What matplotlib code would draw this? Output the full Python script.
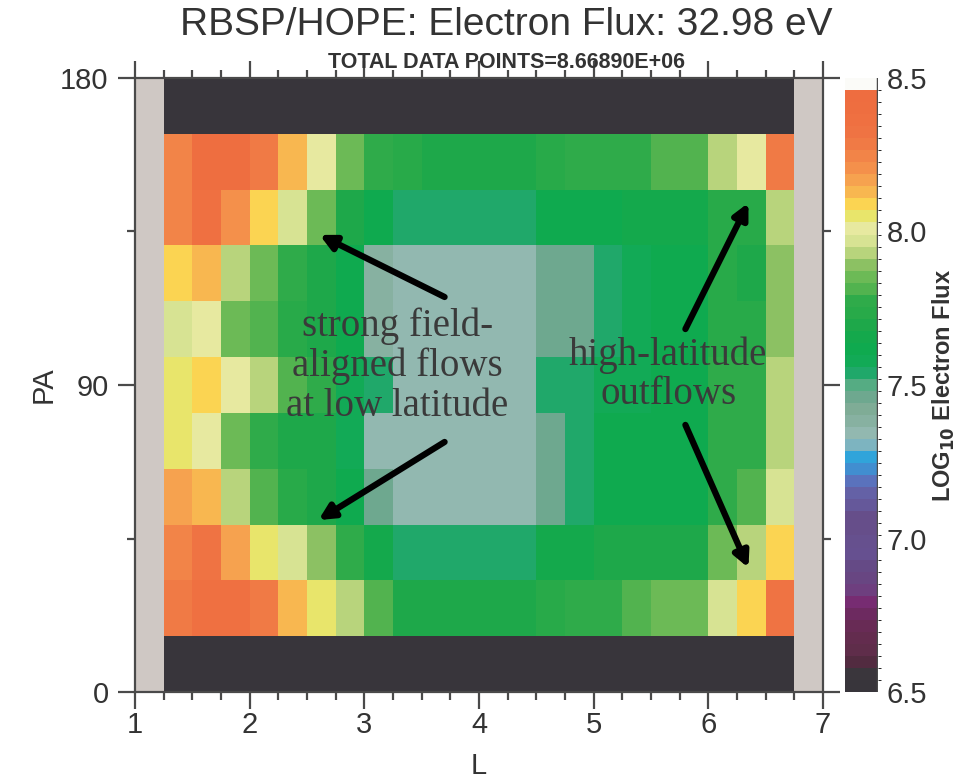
import numpy as np
import matplotlib
matplotlib.use("Agg")
import matplotlib.pyplot as plt
from matplotlib.colors import ListedColormap, BoundaryNorm

plt.rcParams["font.family"] = ["Liberation Sans", "DejaVu Sans"]

# ---------------------------------------------------------------------------
# Binned log10 electron flux, 32.98 eV, HOPE on RBSP
# L bins 1.25..6.75 (dL = 0.25), PA bins 180/11 deg wide
# ---------------------------------------------------------------------------
L_edges = [1.0, 1.25, 1.5, 1.75, 2.0, 2.25, 2.5, 2.75, 3.0, 3.25, 3.5, 3.75,
           4.0, 4.25, 4.5, 4.75, 5.0, 5.25, 5.5, 5.75, 6.0, 6.25, 6.5, 6.75, 7.0]
n_pa_bins = 11

# below the colour scale (no flux above 10^6.5)
low_fill = 6.5

pa_bin_1 = [8.28, 8.36, 8.36, 8.28, 8.13, 8.05, 7.93, 7.81, 7.70, 7.70, 7.70,
            7.70, 7.70, 7.74, 7.77, 7.77, 7.81, 7.85, 7.85, 7.97, 8.09, 8.32]
pa_bin_2 = [8.25, 8.32, 8.17, 8.05, 7.97, 7.89, 7.77, 7.66, 7.54, 7.54, 7.54,
            7.54, 7.54, 7.66, 7.66, 7.70, 7.70, 7.70, 7.70, 7.85, 7.93, 8.09]
pa_bin_3 = [8.17, 8.13, 7.93, 7.81, 7.74, 7.70, 7.62, 7.46, 7.34, 7.34, 7.34,
            7.34, 7.34, 7.46, 7.54, 7.62, 7.62, 7.62, 7.62, 7.77, 7.81, 7.97]
pa_bin_4 = [8.05, 8.01, 7.85, 7.77, 7.70, 7.70, 7.58, 7.34, 7.34, 7.34, 7.34,
            7.34, 7.34, 7.46, 7.54, 7.62, 7.62, 7.62, 7.62, 7.77, 7.77, 7.93]
pa_bin_5 = [8.05, 8.09, 8.01, 7.93, 7.81, 7.77, 7.58, 7.54, 7.34, 7.34, 7.34,
            7.34, 7.34, 7.54, 7.54, 7.58, 7.58, 7.62, 7.62, 7.77, 7.77, 7.93]
pa_bin_6 = [7.97, 8.01, 7.85, 7.81, 7.74, 7.70, 7.62, 7.38, 7.34, 7.34, 7.34,
            7.34, 7.34, 7.46, 7.46, 7.54, 7.58, 7.62, 7.62, 7.74, 7.74, 7.89]
pa_bin_7 = [8.09, 8.13, 7.93, 7.85, 7.77, 7.70, 7.62, 7.38, 7.34, 7.34, 7.34,
            7.34, 7.34, 7.46, 7.46, 7.54, 7.58, 7.62, 7.62, 7.74, 7.70, 7.89]
pa_bin_8 = [8.25, 8.36, 8.21, 8.09, 7.97, 7.85, 7.70, 7.62, 7.54, 7.54, 7.54,
            7.54, 7.54, 7.62, 7.62, 7.62, 7.66, 7.66, 7.66, 7.74, 7.74, 7.93]
pa_bin_9 = [8.25, 8.40, 8.40, 8.28, 8.13, 8.01, 7.85, 7.77, 7.74, 7.70, 7.70,
            7.70, 7.70, 7.74, 7.77, 7.77, 7.77, 7.81, 7.81, 7.93, 8.01, 8.28]

# IDL-style discrete colour table, bottom (6.5) to top (8.5)
ct_colors = [
    "#38353b", "#3a363c", "#522b40", "#5f2d4a", "#632c4e", "#682b55",
    "#6d2a60", "#772c72", "#6e3f7f", "#684682", "#654a86", "#665090",
    "#66508e", "#664e8a", "#664e8a", "#65589a", "#6461a6", "#5a72bd",
    "#418ed0", "#30a4da", "#7db4c0", "#92b8b0", "#87b1a1", "#7fac96",
    "#6ea88f", "#55ac83", "#20a86a", "#12aa56", "#0faa4f", "#14a94c",
    "#1ea84a", "#28aa49", "#2fab4a", "#52b34f", "#6cba56", "#8cc163",
    "#b8d47c", "#d7e393", "#e7e9a0", "#e8e56b", "#fbd452", "#f8b750",
    "#f6a24f", "#f4904b", "#f28448", "#f07a45", "#ef7343", "#ef7041",
    "#ee6e40", "#ee6d40", "#fbfbf8",
]
cb_ticks = [6.5, 7.0, 7.5, 8.0, 8.5]

# ---------------------------------------------------------------------------
data_rows = [pa_bin_1, pa_bin_2, pa_bin_3, pa_bin_4, pa_bin_5,
             pa_bin_6, pa_bin_7, pa_bin_8, pa_bin_9]
n_L = len(L_edges) - 1
grid = np.full((n_pa_bins, n_L), np.nan)
grid[0, 1:-1] = low_fill
grid[-1, 1:-1] = low_fill
for i, row in enumerate(data_rows):
    grid[i + 1, 1:-1] = row
grid = np.ma.masked_invalid(grid)
pa_edges = np.linspace(0, 180, n_pa_bins + 1)

cmap = ListedColormap(ct_colors)
cmap.set_bad("#cfc8c4")
levels = np.linspace(6.5, 8.5, len(ct_colors) + 1)
norm = BoundaryNorm(levels, cmap.N)

fig = plt.figure(figsize=(9.59, 7.84), dpi=100)
ax = fig.add_axes([135 / 959, 92 / 784, 688 / 959, 614 / 784])
cax = fig.add_axes([845 / 959, 92 / 784, 33 / 959, 614 / 784])

mesh = ax.pcolormesh(L_edges, pa_edges, grid, cmap=cmap, norm=norm)

axis_col = "#4a4a4a"
txt_col = "#333333"
ax.set_xlim(1, 7)
ax.set_ylim(0, 180)
ax.set_xticks(range(1, 8))
ax.set_xticks(np.arange(1, 7.01, 0.25), minor=True)
ax.set_yticks([0, 90, 180])
ax.set_yticks([45, 135], minor=True)
ax.tick_params(which="both", direction="out", top=True, right=True,
               color=axis_col, width=1.6, labelsize=21, labelcolor=txt_col)
ax.tick_params(which="major", length=12, pad=7)
ax.tick_params(axis="x", which="major", pad=2)
ax.tick_params(which="minor", length=6)
for sp in ax.spines.values():
    sp.set_color(axis_col)
    sp.set_linewidth(1.6)
ax.set_xlabel("L", fontsize=21, color=txt_col, labelpad=9)
ax.set_ylabel("PA", fontsize=21, color=txt_col, labelpad=2)

# colour bar
cb = fig.colorbar(mesh, cax=cax, ticks=cb_ticks, spacing="proportional")
cb.outline.set_visible(False)
cax.axvline(1.0, color=axis_col, lw=2.5)
cax.tick_params(length=0, labelsize=21, labelcolor=txt_col, pad=6)
cax.set_yticklabels([f"{t:.1f}" for t in cb_ticks])
cb.set_label(r"LOG$_{\mathbf{10}}$ Electron Flux", fontsize=17, fontweight="bold",
             color=txt_col, labelpad=3)

# titles, centred over plot + colour bar
fig.text(506 / 959, 1 - 25 / 784, "RBSP/HOPE: Electron Flux: 32.98 eV",
         ha="center", va="center", fontsize=28, color=txt_col)
fig.text(506 / 959, 1 - 62 / 784, "TOTAL DATA POINTS=8.66890E+06",
         ha="center", va="center", fontsize=15.5, fontweight="bold", color=txt_col)

# annotations
ann_font = dict(family=["Liberation Serif", "DejaVu Serif"], fontsize=28,
                color="#3a3a3a", ha="center", va="center", linespacing=1.1)
ax.text(3.29, 95.6, "strong field-\naligned flows\nat low latitude", **ann_font)
ax.text(5.65, 93, "high-latitude\noutflows", **ann_font)

arrow_kw = dict(arrowstyle="-|>,head_length=0.9,head_width=0.45",
                color="black", lw=4.5, shrinkA=0, shrinkB=0)
for tail, tip in [((3.70, 115.8), (2.61, 134.0)),
                  ((3.70, 73.3), (2.60, 50.4)),
                  ((5.80, 106.4), (6.35, 143.4)),
                  ((5.80, 78.3), (6.35, 36.4))]:
    ax.annotate("", xy=tip, xytext=tail, arrowprops=arrow_kw)

fig.savefig("out.png", dpi=100)
